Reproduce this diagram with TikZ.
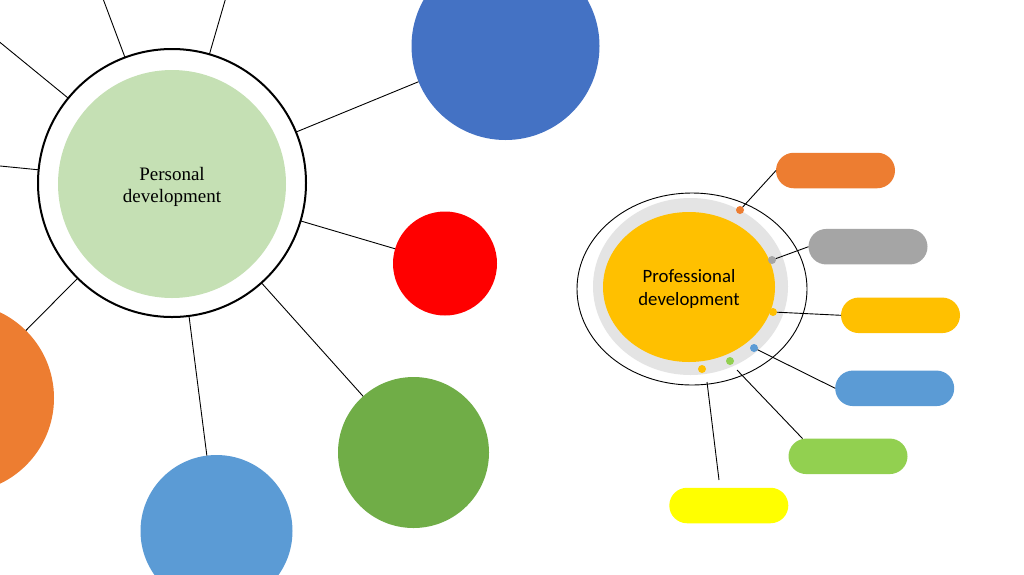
\documentclass[tikz,border=0pt]{standalone}
\usepackage{fontspec}
\setmainfont{Liberation Serif}
\newfontfamily\carl{Carlito}
\usetikzlibrary{shapes.geometric}
\definecolor{cBlue}{HTML}{4472C4}
\definecolor{cGreen}{HTML}{70AD47}
\definecolor{cLBlue}{HTML}{5B9BD5}
\definecolor{cOrange}{HTML}{ED7D31}
\definecolor{cLGreen}{HTML}{C5E0B4}
\definecolor{cGold}{HTML}{FFC000}
\definecolor{cGray}{HTML}{A5A5A5}
\definecolor{cRing}{HTML}{E4E4E4}
\definecolor{cLime}{HTML}{92D050}
\definecolor{cYellow}{HTML}{FFFF00}
\begin{document}
\begin{tikzpicture}[x=1pt,y=-1pt,
  conn/.style={draw=black, line width=0.9pt},
  bubble/.style={circle, inner sep=0pt, outer sep=0pt, minimum size=#1},
  pill/.style={rectangle, rounded corners=17.75pt, minimum width=119pt, minimum height=35.5pt, inner sep=0pt, outer sep=0pt, fill=#1},
  dotnode/.style={circle, inner sep=0pt, outer sep=0pt, minimum size=8pt, fill=#1},
  oval/.style={ellipse, inner sep=0pt, outer sep=0pt}
]
\useasboundingbox (0,0) rectangle (1024,574);
\clip (0,0) rectangle (1024,574);
\fill[white] (0,0) rectangle (1024,574);

% ---- Personal development cluster ----
\node[bubble=188pt, fill=cBlue] (blue) at (505.5,46) {};
\node[bubble=104pt, fill=red] (red) at (445,263.5) {};
\node[bubble=151pt, fill=cGreen] (green) at (413.5,452.5) {};
\node[bubble=152pt, fill=cLBlue] (lblue) at (216.5,531) {};
\node[bubble=190pt, fill=cOrange] (orange) at (-41,398) {};
\node[bubble=268pt, draw=black, line width=2pt, fill=white] (pdo) at (172,183) {};
\node[bubble=228pt, fill=cLGreen] (pd) at (172,184) {};
\node[font=\fontsize{19}{22.5}\selectfont, align=center, inner sep=0pt] (pdlabel) at (172,187) {Personal\\development};

\coordinate (t1) at (96,-20);
\coordinate (t2) at (231,-20);
\coordinate (t3) at (-20,26);
\coordinate (t4) at (-20,164);
\draw[conn] (pdo) -- (t1);
\draw[conn] (pdo) -- (t2);
\draw[conn] (pdo) -- (t3);
\draw[conn] (pdo) -- (t4);
\draw[conn] (pdo) -- (blue);
\draw[conn] (pdo) -- (red);
\draw[conn] (pdo) -- (green);
\draw[conn] (pdo) -- (lblue);
\draw[conn] (pdo) -- (orange);

% ---- Professional development cluster ----
\node[oval, draw=black, line width=0.9pt, minimum width=230pt, minimum height=192pt] (pfo) at (692,289) {};
\node[oval, fill=cRing, minimum width=195pt, minimum height=177pt] (pfr) at (690.5,286.5) {};
\node[oval, fill=cGold, minimum width=172pt, minimum height=150pt] (pf) at (689,287) {};
\node[font=\carl\fontsize{18.8}{23}\selectfont, align=center, inner sep=0pt] (pflabel) at (689,289) {Professional\\development};

\node[dotnode=cOrange] (dO) at (740,210) {};
\node[dotnode=cGray] (dG) at (772,260) {};
\node[dotnode=cGold] (dY) at (773,312) {};
\node[dotnode=cLBlue] (dB) at (754,348) {};
\node[dotnode=cLime] (dL) at (730,361) {};
\node[dotnode=cGold] (dW) at (702,369) {};

\node[pill=cOrange] (pO) at (835.5,170.5) {};
\node[pill=cGray] (pG) at (868,246.7) {};
\node[pill=cGold] (pY) at (900.5,315.3) {};
\node[pill=cLBlue] (pB) at (894.7,388.3) {};
\node[pill=cLime] (pL) at (848,456.3) {};
\node[pill=cYellow] (pW) at (728.8,505.5) {};

\coordinate (gs) at (737,370);
\coordinate (ws) at (707,382);
\coordinate (we) at (719,480);
\draw[conn] (dO) -- (pO.west);
\draw[conn] (dG) -- (pG.west);
\draw[conn] (dY) -- (pY.west);
\draw[conn] (dB) -- (pB.west);
\draw[conn] (gs) -- ([xshift=14pt]pL.north west);
\draw[conn] (ws) -- (we);
\end{tikzpicture}
\end{document}
